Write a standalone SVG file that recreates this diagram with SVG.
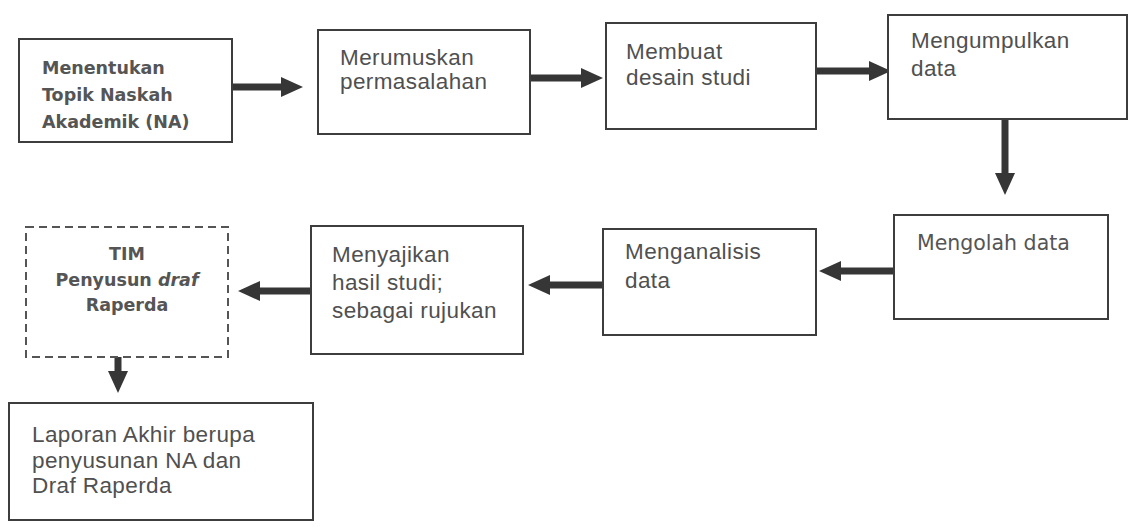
<svg xmlns="http://www.w3.org/2000/svg" width="1130" height="532" viewBox="0 0 1130 532">
<style>
.box{fill:#ffffff;stroke:#3d3d3d;stroke-width:2}
.dash{fill:#ffffff;stroke:#555;stroke-width:2;stroke-dasharray:8 5}
.t{font-family:"Liberation Sans",Arial,sans-serif;font-size:22.5px;letter-spacing:0.4px;fill:#505050}
.b{font-family:"DejaVu Sans",Verdana,sans-serif;font-size:17.5px;font-weight:bold;fill:#555}
.v{font-family:"DejaVu Sans",Verdana,sans-serif;font-size:20.5px;fill:#555}
.arr{stroke:#363636;stroke-width:7;fill:none;marker-end:url(#head)}
</style>
<defs>
<marker id="head" markerUnits="userSpaceOnUse" markerWidth="23" markerHeight="21" refX="1" refY="10" orient="auto">
<path d="M0,0 L22,10 L0,20 Z" fill="#363636"/>
</marker>
</defs>
<rect width="1130" height="532" fill="#ffffff"/>
<g id="connectors">
<line class="arr" x1="223" y1="87" x2="282" y2="87"/>
<line class="arr" x1="522" y1="78" x2="582" y2="78"/>
<line class="arr" x1="812" y1="71" x2="870" y2="71"/>
<line class="arr" x1="1005" y1="119" x2="1005" y2="174"/>
<line class="arr" x1="894" y1="271" x2="840" y2="271"/>
<line class="arr" x1="605" y1="285" x2="549" y2="285"/>
<line class="arr" x1="311" y1="291" x2="259" y2="291"/>
<line class="arr" x1="118" y1="347" x2="118" y2="372"/>
</g>
<g id="n1">
<rect class="box" x="19" y="39" width="213" height="103"/>
<text class="b" x="42" y="74">Menentukan</text>
<text class="b" x="42" y="101">Topik Naskah</text>
<text class="b" x="42" y="128">Akademik (NA)</text>
</g>
<g id="n2">
<rect class="box" x="318" y="30" width="212" height="104"/>
<text class="t" x="340" y="65">Merumuskan</text>
<text class="t" x="340" y="89">permasalahan</text>
</g>
<g id="n3">
<rect class="box" x="606" y="23" width="210" height="106"/>
<text class="t" x="626" y="59">Membuat</text>
<text class="t" x="626" y="85">desain studi</text>
</g>
<g id="n4">
<rect class="box" x="888" y="15" width="239" height="104"/>
<text class="t" x="911" y="48">Mengumpulkan</text>
<text class="t" x="911" y="76">data</text>
</g>
<g id="n5">
<rect class="box" x="894" y="215" width="214" height="104"/>
<text class="v" x="917" y="250">Mengolah data</text>
</g>
<g id="n6">
<rect class="box" x="603" y="229" width="213" height="106"/>
<text class="t" x="625" y="259">Menganalisis</text>
<text class="t" x="625" y="288">data</text>
</g>
<g id="n7">
<rect class="box" x="311" y="226" width="212" height="128"/>
<text class="t" x="332" y="262">Menyajikan</text>
<text class="t" x="332" y="290">hasil studi;</text>
<text class="t" x="332" y="318">sebagai rujukan</text>
</g>
<g id="n8">
<rect class="dash" x="26" y="227" width="202" height="130"/>
<text class="b" x="127" y="260" text-anchor="middle">TIM</text>
<text class="b" x="127" y="286" text-anchor="middle">Penyusun <tspan font-style="italic">draf</tspan></text>
<text class="b" x="127" y="311" text-anchor="middle">Raperda</text>
</g>
<g id="n9">
<rect class="box" x="9" y="403" width="304" height="117"/>
<text class="t" x="32" y="442">Laporan Akhir berupa</text>
<text class="t" x="32" y="468">penyusunan NA dan</text>
<text class="t" x="32" y="493">Draf Raperda</text>
</g>
</svg>
